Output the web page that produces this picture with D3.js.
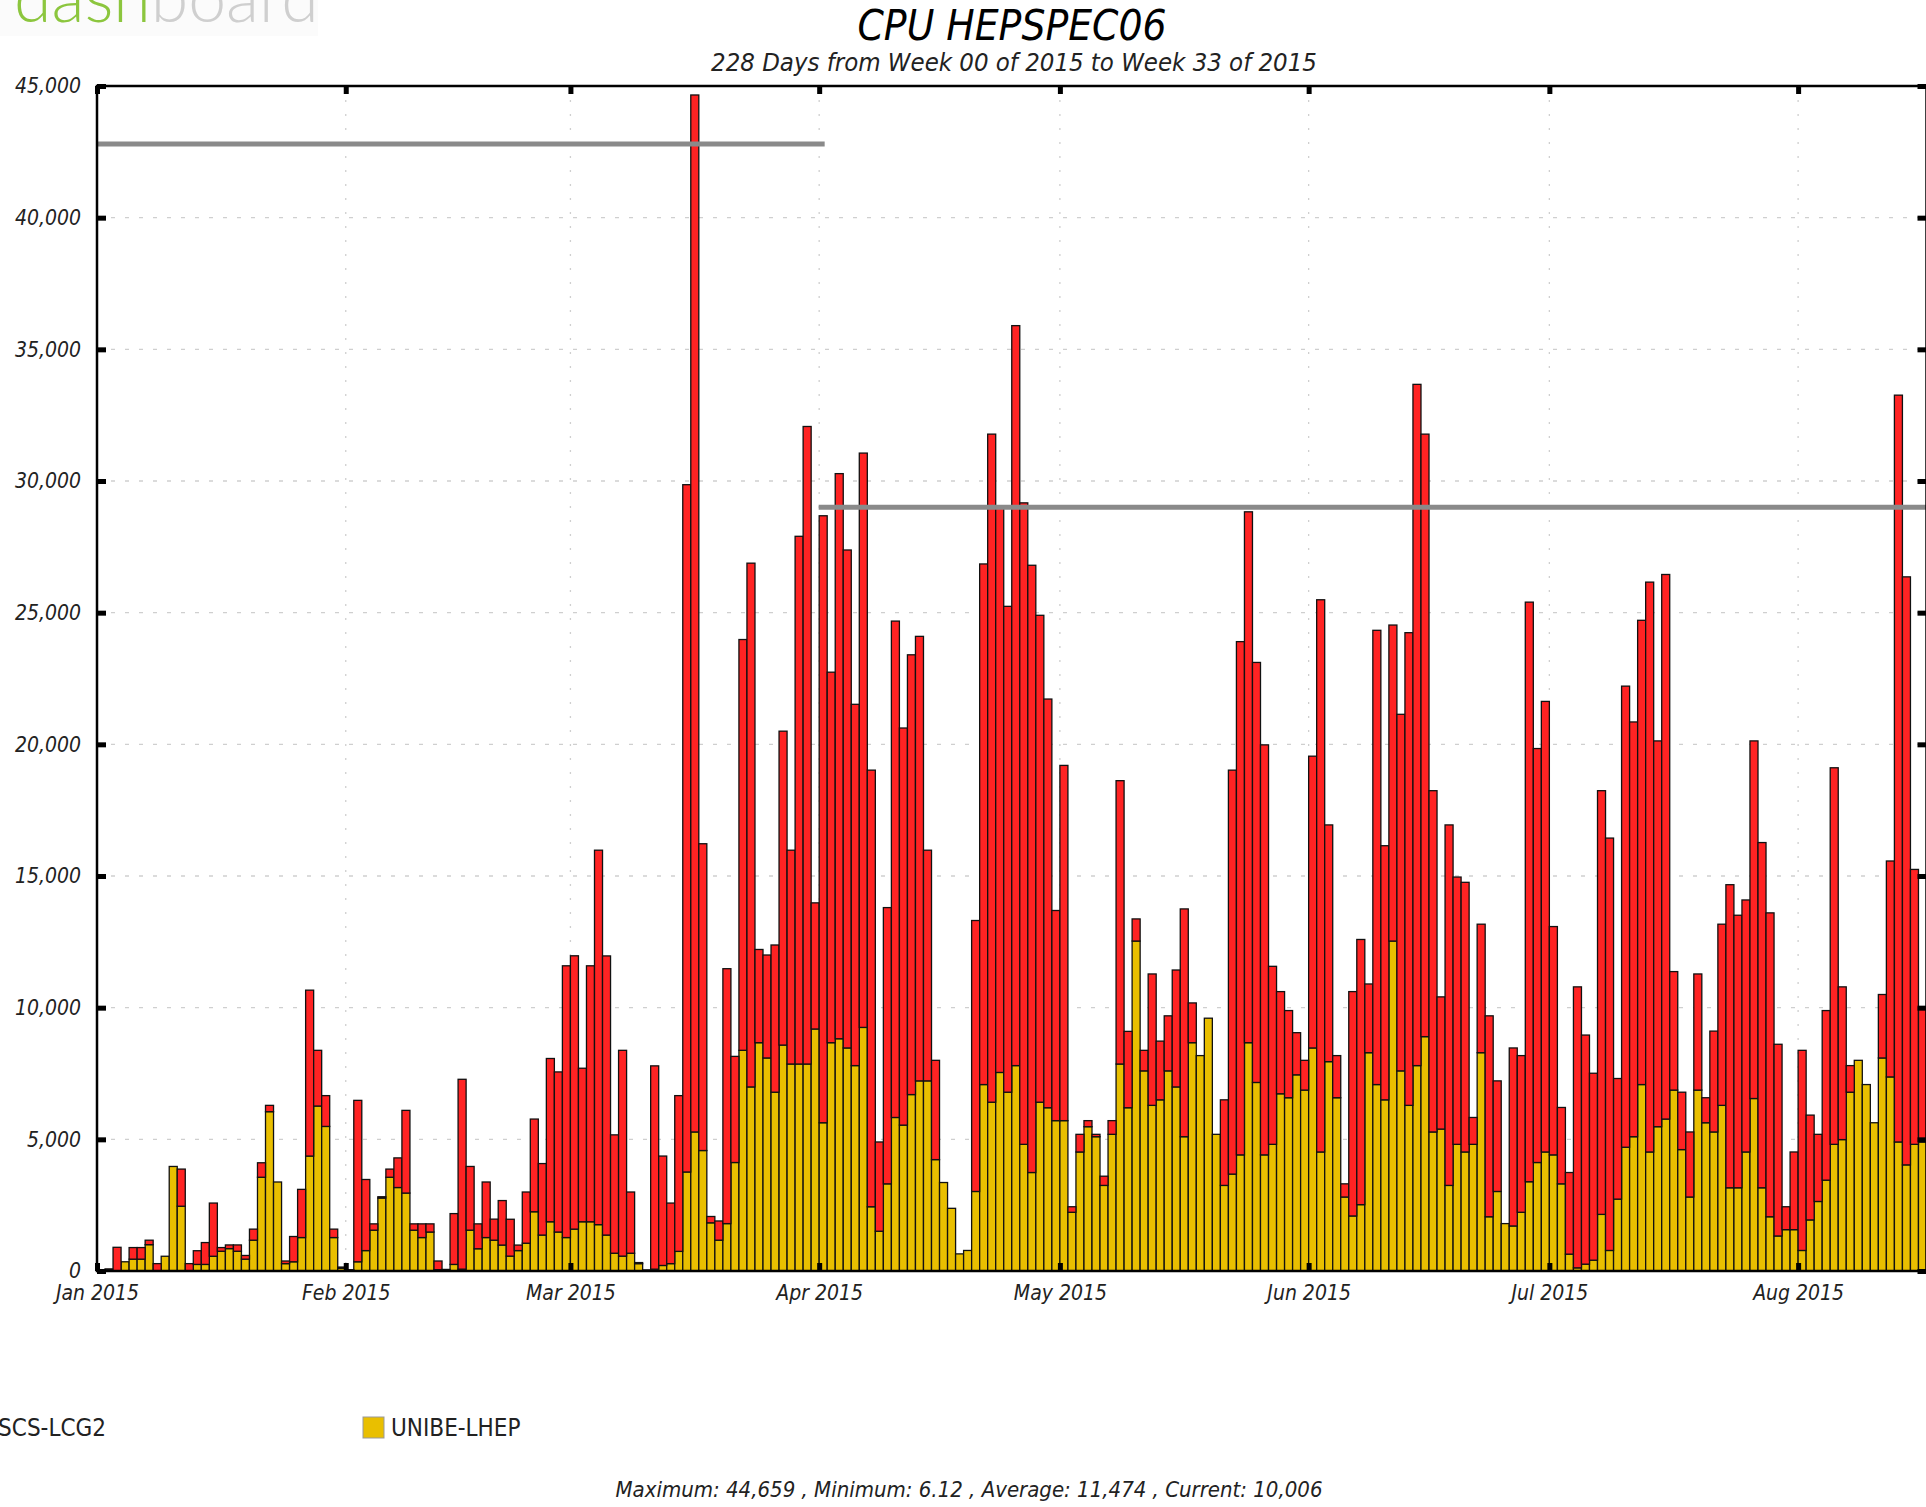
<!DOCTYPE html>
<html>
<head>
<meta charset="utf-8">
<script src="https://cdn.jsdelivr.net/npm/d3@7"></script>
<style>
  body { margin: 0; background: #fff; }
  text { font-family: "DejaVu Sans Condensed", "DejaVu Sans", sans-serif; font-stretch: condensed; }
</style>
</head>
<body>
<svg id="chart"></svg>
<script>
// Chart size
const width = 1926;
const height = 1507;

// Data: one value per day, starting 2015-01-01 (228 days)
const firstDay = "2015-01-01";
const lastDay = "2015-08-17";
const seriesNames = ["CSCS-LCG2", "UNIBE-LHEP"];

const unibe = [
  6, 40, 0, 350, 450, 450, 1000, 0, 560, 3970,
  2460, 0, 250, 250, 560, 750, 850, 750, 450, 1170,
  3560, 6050, 3380, 280, 350, 1270, 4365, 6265, 5490, 1270,
  100, 20, 350, 775, 1550, 2770, 3560, 3170, 2960, 1550,
  1270, 1480, 50, 30, 250, 70, 1550, 845, 1270, 1170,
  985, 565, 775, 1055, 2250, 1365, 1870, 1480, 1270, 1590,
  1870, 1870, 1760, 1365, 675, 565, 675, 280, 20, 70,
  210, 280, 745, 3760, 5280, 4575, 1830, 1170, 1800, 4120,
  8380, 6990, 8670, 8090, 6790, 8580, 7860, 7860, 7860, 9190,
  5630, 8670, 8820, 8470, 7800, 9250, 2440, 1510, 3310, 5830,
  5540, 6700, 7220, 7220, 4230, 3360, 2380, 650, 780, 3020,
  7080, 6410, 7540, 6790, 7800, 4810, 3740, 6410, 6200, 5710,
  5710, 2230, 4520, 5480, 5100, 3250, 5190, 7860, 6200, 12530,
  7600, 6290, 6500, 7600, 6990, 5100, 8670, 8180, 9600, 5190,
  3250, 3680, 4410, 8670, 7160, 4410, 4810, 6730, 6580, 7450,
  6870, 8470, 4520, 7950, 6580, 2810, 2090, 2520, 8290, 7080,
  6500, 12530, 7600, 6290, 7800, 8900, 5280, 5390, 3250, 4810,
  4520, 4810, 8290, 2060, 3020, 1800, 1710, 2230, 3390, 4120,
  4520, 4410, 3310, 640, 120, 260, 410, 2150, 780, 2730,
  4700, 5100, 7080, 4520, 5480, 5770, 6870, 4610, 2810, 6870,
  5630, 5280, 6290, 3160, 3160, 4520, 6550, 3160, 2060, 1330,
  1570, 1570, 780, 1940, 2640, 3450, 4810, 4990, 6790, 8000,
  7080, 5630, 8090, 7370, 4900, 4030, 4810, 4900
];

const cscs = [
  0, 40, 900, 0, 440, 440, 170, 280, 0, 0,
  1410, 280, 520, 830, 2020, 140, 140, 240, 140, 420,
  550, 240, 0, 100, 960, 1830, 6300, 2115, 1170, 320,
  50, 30, 6130, 2700, 240, 50, 310, 1125, 3140, 240,
  520, 310, 330, 30, 1930, 7210, 2420, 945, 2110, 800,
  1690, 1400, 210, 1945, 3520, 2715, 6200, 6080, 10320, 10380,
  5830, 9720, 14220, 10600, 4495, 7815, 2325, 40, 20, 7720,
  4155, 2300, 5915, 26100, 39379, 11650, 240, 730, 9680, 4030,
  15600, 19890, 3540, 3910, 5590, 11920, 8120, 20040, 24210, 4790,
  23050, 14070, 21460, 18910, 13720, 21810, 16580, 3390, 10490, 18850,
  15080, 16700, 16880, 8760, 3770, 0, 0, 0, 0, 10290,
  19770, 25370, 21460, 18450, 28100, 24360, 23060, 18490, 15520, 7980,
  13490, 210, 670, 230, 90, 350, 520, 10760, 2900, 840,
  780, 4990, 2230, 2090, 4440, 8650, 1510, 0, 0, 0,
  3250, 15340, 19490, 20160, 15950, 15570, 6760, 3880, 3310, 1600,
  1130, 11080, 20970, 8990, 1600, 500, 8520, 10070, 2610, 17250,
  9650, 12000, 13540, 17950, 25870, 22880, 12960, 5020, 13690, 10150,
  10240, 1020, 4880, 7630, 4200, 0, 6760, 5950, 22010, 15720,
  17110, 8670, 2900, 3100, 10670, 8700, 7100, 16090, 15660, 4580,
  17510, 15750, 17630, 21640, 14650, 20680, 4500, 2180, 2470, 4410,
  950, 3830, 6880, 11510, 10350, 9570, 13580, 13110, 11540, 7280,
  870, 2950, 7600, 3980, 2550, 6440, 14300, 5800, 1010, 0,
  0, 0, 2410, 8200, 28360, 22330, 10440, 5100
];

// Pledge lines (grey)
const pledgeFrom = ["2015-01-01", "2015-04-01"];
const pledgeTo = ["2015-04-01", "2015-08-17"];
const pledgeValues = [42800, 29000];

// Axis labels
const yTicks = [0, 5000, 10000, 15000, 20000, 25000, 30000, 35000, 40000, 45000];
const monthLabels = ["Jan 2015", "Feb 2015", "Mar 2015", "Apr 2015", "May 2015", "Jun 2015", "Jul 2015", "Aug 2015"];

const titleText = "CPU HEPSPEC06";
const subtitleText = "228 Days from Week 00 of 2015 to Week 33 of 2015";
const footerText = "Maximum: 44,659 , Minimum: 6.12 , Average: 11,474 , Current: 10,006";

const colors = { "CSCS-LCG2": "#ff2323", "UNIBE-LHEP": "#e9bf00" };

// Build rows for the stack
const parse = d3.utcParse("%Y-%m-%d");
const start = parse(firstDay);
const end = parse(lastDay);
const rows = unibe.map((u, i) => ({
  date: d3.utcDay.offset(start, i),
  "UNIBE-LHEP": u,
  "CSCS-LCG2": cscs[i]
}));

// Scales
const plotLeft = 97, plotRight = 1926.5, plotTop = 86, plotBottom = 1271;
const x = d3.scaleUtc().domain([start, end]).range([plotLeft, plotRight]);
const y = d3.scaleLinear().domain([0, 45000]).range([plotBottom, plotTop]);

const svg = d3.select("#chart").attr("width", width).attr("height", height);

// Logo remnant at the top left
svg.append("rect").attr("x", 0).attr("y", 0).attr("width", 318).attr("height", 36).attr("fill", "#fbfbfb");
const logo = svg.append("text")
  .attr("x", 14).attr("y", 22)
  .style("font-family", "Lato, 'Open Sans', sans-serif")
  .style("font-stretch", "normal")
  .style("font-weight", 300)
  .style("font-size", "68px");
logo.append("tspan").attr("fill", "#8cc63e").text("dash");
logo.append("tspan").attr("fill", "#cfcfcf").text("board");

// Gridlines
const months = d3.utcMonth.range(start, end);
svg.append("g")
  .selectAll("line")
  .data(yTicks.slice(1, -1))
  .enter()
  .append("line")
  .attr("x1", plotLeft).attr("x2", plotRight)
  .attr("y1", (d) => y(d)).attr("y2", (d) => y(d))
  .attr("stroke", "#cfcfcf").attr("stroke-width", 1.3)
  .attr("stroke-dasharray", "4,10");

svg.append("g")
  .selectAll("line")
  .data(months.slice(1))
  .enter()
  .append("line")
  .attr("x1", (d) => x(d)).attr("x2", (d) => x(d))
  .attr("y1", plotTop).attr("y2", plotBottom)
  .attr("stroke", "#cfcfcf").attr("stroke-width", 1.3)
  .attr("stroke-dasharray", "2,12");

// Stacked bars
const stack = d3.stack().keys(["UNIBE-LHEP", "CSCS-LCG2"]);
const layers = stack(rows);

svg.append("g")
  .selectAll("g")
  .data(layers)
  .enter()
  .append("g")
  .attr("fill", (d) => colors[d.key])
  .selectAll("rect")
  .data((d) => d)
  .enter()
  .append("rect")
  .attr("x", (d) => x(d.data.date))
  .attr("width", (d) => x(d3.utcDay.offset(d.data.date, 1)) - x(d.data.date))
  .attr("y", (d) => y(d[1]))
  .attr("height", (d) => y(d[0]) - y(d[1]))
  .attr("stroke", "#111")
  .attr("stroke-width", 1.3);

// Pledge lines
svg.append("g")
  .selectAll("line")
  .data(pledgeValues)
  .enter()
  .append("line")
  .attr("x1", (d, i) => x(parse(pledgeFrom[i])) + 2)
  .attr("x2", (d, i) => Math.min(x(parse(pledgeTo[i])) + 3, plotRight))
  .attr("y1", (d) => y(d)).attr("y2", (d) => y(d))
  .attr("stroke", "#8a8a8a").attr("stroke-width", 5)
  .attr("stroke-linecap", "square");

// Frame
svg.append("rect")
  .attr("x", plotLeft).attr("y", plotTop)
  .attr("width", plotRight - plotLeft).attr("height", plotBottom - plotTop)
  .attr("fill", "none").attr("stroke", "#000").attr("stroke-width", 2.5);

// Axes (ticks drawn inward)
const labelStyle = (g) => {
  g.select(".domain").remove();
  g.selectAll(".tick line").attr("stroke", "#000").attr("stroke-width", 5);
  g.selectAll(".tick text")
    .attr("fill", "#222")
    .style("font-size", "21px")
    .style("font-style", "italic");
};

svg.append("g")
  .attr("transform", "translate(0," + plotBottom + ")")
  .call(d3.axisBottom(x).tickValues(months).tickFormat((d, i) => monthLabels[i]).tickSize(-8).tickPadding(14))
  .call(labelStyle);

svg.append("g")
  .attr("transform", "translate(0," + plotTop + ")")
  .call(d3.axisTop(x).tickValues(months).tickFormat("").tickSize(-8))
  .call(labelStyle);

svg.append("g")
  .attr("transform", "translate(" + plotLeft + ",0)")
  .call(d3.axisLeft(y).tickValues(yTicks).tickFormat(d3.format(",")).tickSize(-9).tickPadding(16))
  .call(labelStyle);

svg.append("g")
  .attr("transform", "translate(" + plotRight + ",0)")
  .call(d3.axisRight(y).tickValues(yTicks).tickFormat("").tickSize(-9))
  .call(labelStyle);

// Titles
svg.append("text")
  .attr("x", 1012).attr("y", 40)
  .attr("text-anchor", "middle")
  .style("font-size", "42px").style("font-style", "italic")
  .attr("fill", "#000")
  .text(titleText);

svg.append("text")
  .attr("x", 1014).attr("y", 71)
  .attr("text-anchor", "middle")
  .style("font-size", "25.5px").style("font-style", "italic")
  .attr("fill", "#222")
  .text(subtitleText);

// Legend
const legend = svg.append("g")
  .selectAll("g")
  .data(seriesNames)
  .enter()
  .append("g")
  .attr("transform", (d, i) => "translate(" + (i * 408 - 45) + ",1417)");

legend.append("rect")
  .attr("width", 21).attr("height", 21)
  .attr("fill", (d) => colors[d])
  .attr("stroke", "#999").attr("stroke-width", 1);

legend.append("text")
  .attr("x", 28).attr("y", 19)
  .style("font-size", "24px")
  .attr("fill", "#222")
  .text((d) => d);

// Footer
svg.append("text")
  .attr("x", 969).attr("y", 1497)
  .attr("text-anchor", "middle")
  .style("font-size", "22px").style("font-style", "italic")
  .attr("fill", "#222")
  .text(footerText);
</script>
</body>
</html>
